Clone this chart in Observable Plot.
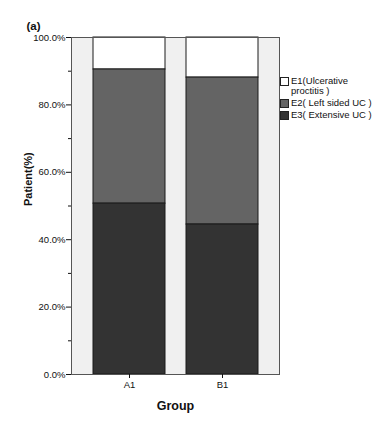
<!DOCTYPE html>
<html>
<head>
<meta charset="utf-8">
<script src="https://cdn.jsdelivr.net/npm/d3@7"></script>
<script src="https://cdn.jsdelivr.net/npm/@observablehq/plot@0.6"></script>
<style>
  html, body { margin: 0; padding: 0; background: #fff; }
  #wrap { position: relative; width: 374px; height: 430px; }
  #legend { position: absolute; left: 280px; top: 76px; font-family: "Liberation Sans", Arial, sans-serif; font-size: 9.5px; color: #111; line-height: 10px; }
  .item { display: flex; align-items: flex-start; margin-bottom: 2px; }
  .sw { width: 7px; height: 7px; border: 1px solid #222; margin-right: 2px; margin-top: 1px; flex: none; }
</style>
</head>
<body>
<div id="wrap"></div>
<script>
const groups = ["A1", "B1"];
const categories = ["E1(Ulcerative proctitis )", "E2( Left sided UC )", "E3( Extensive UC )"];
const legendLines = [["E1(Ulcerative", "proctitis )"], ["E2( Left sided UC )"], ["E3( Extensive UC )"]];
const e1 = [9.5, 11.9];
const e2 = [39.8, 43.6];
const e3 = [50.7, 44.5];
const yTicks = [0, 20, 40, 60, 80, 100];
const yMinor = [10, 30, 50, 70, 90];
const colors = ["#ffffff", "#646464", "#333333"];

const series = [e1, e2, e3];
const rows = [];
groups.forEach((g, i) => {
  categories.forEach((c, j) => rows.push({group: g, cat: c, value: series[j][i]}));
});

const chart = Plot.plot({
  width: 374, height: 430,
  marginLeft: 71, marginRight: 95, marginTop: 37, marginBottom: 56,
  style: {fontFamily: "'Liberation Sans', Arial, sans-serif", fontSize: "9.5px", background: "transparent", color: "#111"},
  x: {domain: groups, padding: 0.23, label: null},
  y: {domain: [0, 100], label: null},
  color: {domain: categories, range: colors},
  marks: [
    Plot.frame({fill: "#f0f0f0", stroke: null}),
    Plot.barY(rows, {x: "group", y: "value", fill: "cat", order: [categories[2], categories[1], categories[0]], stroke: "#1a1a1a", strokeWidth: 1}),
    Plot.frame({stroke: "#555", strokeWidth: 1}),
    Plot.axisY({ticks: yTicks, tickFormat: d => d.toFixed(1) + "%", tickSize: 5, tickPadding: 1, label: null}),
    Plot.axisY({ticks: yMinor, tickFormat: () => "", tickSize: 3, label: null}),
    Plot.axisX({tickSize: 4, tickPadding: 3, label: null}),
    Plot.text(["Group"], {frameAnchor: "bottom", dy: 31, lineAnchor: "middle", fontWeight: "bold", fontSize: 12.5}),
    Plot.text(["Patient(%)"], {frameAnchor: "left", dx: -43, rotate: -90, lineAnchor: "middle", fontWeight: "bold", fontSize: 11}),
    Plot.text(["(a)"], {frameAnchor: "top-left", dx: -45, dy: -11, textAnchor: "start", lineAnchor: "middle", fontWeight: "bold", fontSize: 11.5})
  ]
});
const wrap = document.getElementById("wrap");
wrap.appendChild(chart);

const legend = document.createElement("div");
legend.id = "legend";
categories.forEach((c, j) => {
  const item = document.createElement("div");
  item.className = "item";
  const sw = document.createElement("div");
  sw.className = "sw";
  sw.style.background = colors[j];
  const t = document.createElement("div");
  t.innerHTML = legendLines[j].join("<br>");
  item.appendChild(sw);
  item.appendChild(t);
  legend.appendChild(item);
});
wrap.appendChild(legend);
</script>
</body>
</html>
